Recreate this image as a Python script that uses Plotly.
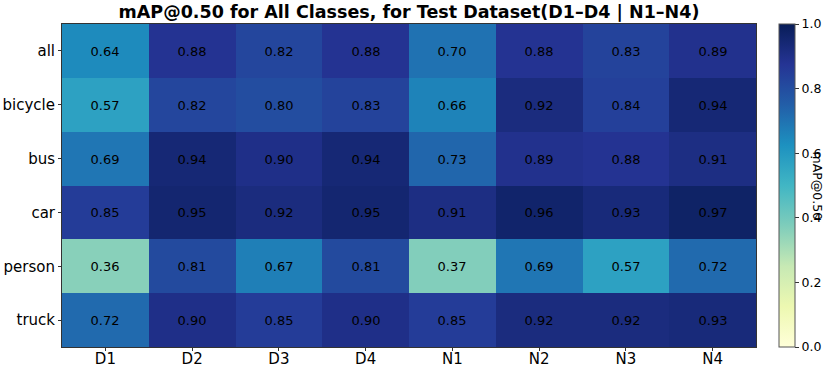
import plotly.graph_objects as go

datasets = ["D1", "D2", "D3", "D4", "N1", "N2", "N3", "N4"]
classes = ["all", "bicycle", "bus", "car", "person", "truck"]
map50 = [
    [0.64, 0.88, 0.82, 0.88, 0.70, 0.88, 0.83, 0.89],
    [0.57, 0.82, 0.80, 0.83, 0.66, 0.92, 0.84, 0.94],
    [0.69, 0.94, 0.90, 0.94, 0.73, 0.89, 0.88, 0.91],
    [0.85, 0.95, 0.92, 0.95, 0.91, 0.96, 0.93, 0.97],
    [0.36, 0.81, 0.67, 0.81, 0.37, 0.69, 0.57, 0.72],
    [0.72, 0.90, 0.85, 0.90, 0.85, 0.92, 0.92, 0.93],
]
cbar_ticks = [0.0, 0.2, 0.4, 0.6, 0.8, 1.0]

ylgnbu = ['rgb(255,255,217)', 'rgb(237,248,177)', 'rgb(199,233,180)', 'rgb(127,205,187)',
          'rgb(65,182,196)', 'rgb(29,145,192)', 'rgb(34,94,168)', 'rgb(37,52,148)', 'rgb(8,29,88)']

FONT = "DejaVu Sans"
W, H = 829, 370
ML, MR, MT, MB = 62, 0, 24, 23
PW = W - ML - MR


def px_x(p):
    return (p - ML) / PW


fig = go.Figure(go.Heatmap(
    z=map50, x=datasets, y=classes,
    colorscale=ylgnbu, zmin=0, zmax=1,
    texttemplate="%{z:.2f}",
    textfont=dict(family=FONT, size=13, color="black"),
    colorbar=dict(
        x=px_x(779), xanchor="left", xref="paper",
        y=0.5, yanchor="middle", len=1.0, lenmode="fraction",
        thickness=16, outlinewidth=1, outlinecolor="#555",
        xpad=0, ypad=0,
        tickvals=cbar_ticks, ticktext=[f"{v:.1f}" for v in cbar_ticks],
        ticks="outside", ticklen=4, tickcolor="#333",
        tickfont=dict(family=FONT, size=12.5, color="black"),
    ),
))

fig.add_annotation(
    text="mAP@0.50", textangle=90, xref="paper", yref="paper",
    x=px_x(817), y=0.5, xanchor="center", yanchor="middle", showarrow=False,
    font=dict(family=FONT, size=12.5, color="black"),
)

fig.update_layout(
    width=W, height=H,
    margin=dict(l=ML, r=MR, t=MT, b=MB, autoexpand=False),
    paper_bgcolor="white", plot_bgcolor="white",
    title=dict(text="<b>mAP@0.50 for All Classes, for Test Dataset(D1–D4 | N1–N4)</b>",
               x=(409 / W), xref="container", xanchor="center", y=1 - 12 / H, yanchor="middle",
               font=dict(family=FONT, size=17.5, color="black")),
    xaxis=dict(domain=[0, px_x(756)],
               tickfont=dict(family=FONT, size=15, color="black"), ticks="outside",
               ticklen=3, tickcolor="#333", showline=True, linecolor="#333", mirror=True,
               showgrid=False, zeroline=False, ticklabelstandoff=-5),
    yaxis=dict(tickfont=dict(family=FONT, size=15, color="black"), ticks="outside",
               ticklen=3, tickcolor="#333", showline=True, linecolor="#333", mirror=True,
               showgrid=False, zeroline=False, autorange="reversed"),
)

fig.write_html(
    "out.html",
    config={"displayModeBar": False},
    post_script="document.body.style.margin='0';document.body.style.overflow='hidden';",
)
